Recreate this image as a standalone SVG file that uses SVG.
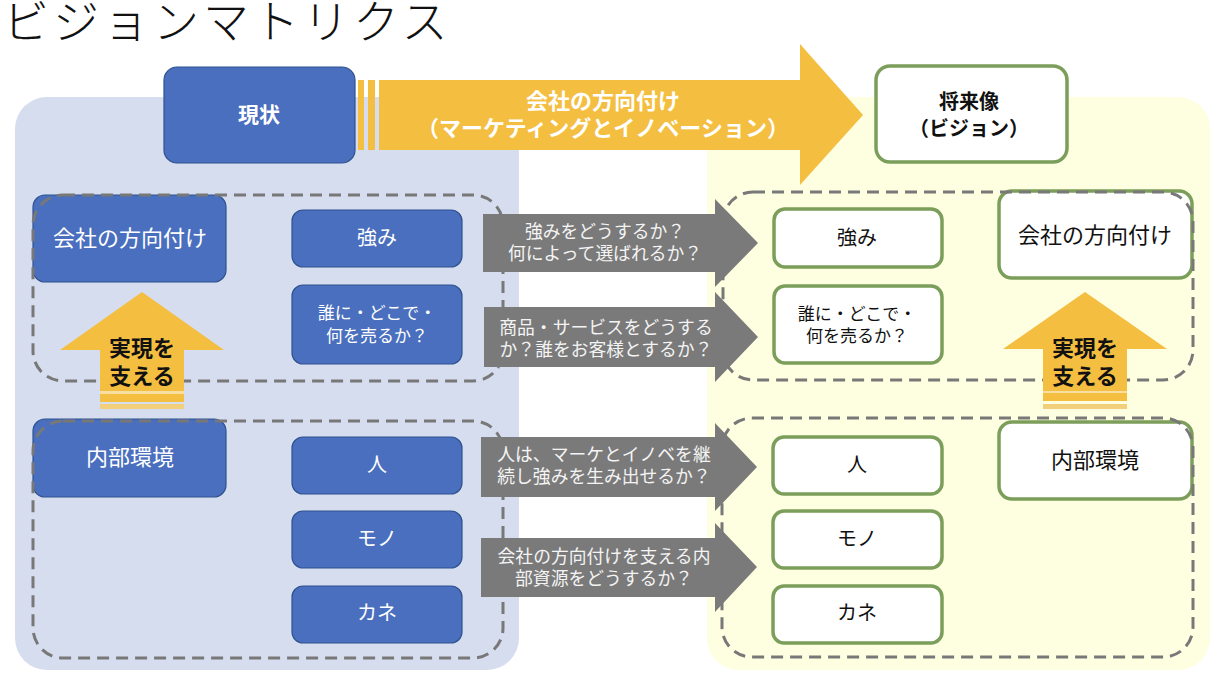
<svg xmlns="http://www.w3.org/2000/svg" width="1220" height="678" viewBox="0 0 1220 678">
<style>
text{font-family:"Noto Sans CJK JP","Noto Sans",sans-serif;text-anchor:middle}
.bb{fill:#4A6FBE;stroke:#2F528F;stroke-width:1.2}
.gb{fill:#FFFFFF;stroke:#7C9E5B;stroke-width:3.5}
.dash{fill:none;stroke:#787878;stroke-width:3;stroke-dasharray:12 7}
.wt{fill:#FFFFFF}
.bt{fill:#111111}
.ga{fill:#7A7A7A}
.gt{fill:#F4F4F4;font-size:17.8px}
.yl{fill:#F4BE41}
.bold{font-weight:bold}
</style>
<rect width="1220" height="678" fill="#FFFFFF"/>
<text x="3" y="38" class="bt" style="text-anchor:start;font-size:46px;letter-spacing:4px;font-weight:200">ビジョンマトリクス</text>
<g id="panels">
<rect x="15" y="97" width="504" height="573" rx="32" fill="#D6DDEE"/>
<rect x="707" y="97" width="503" height="573" rx="32" fill="#FEFEE0"/>
</g>
<g id="genjo">
<rect x="164" y="67" width="191" height="96" rx="13" class="bb"/>
<text x="259" y="122" class="wt bold" style="font-size:21px">現状</text>
</g>
<g id="direction-arrow">
<rect x="358" y="80" width="6" height="70" class="yl"/>
<rect x="368" y="80" width="7" height="70" class="yl"/>
<polygon points="379,80 800,80 800,44 863,115 800,185 800,150 379,150" class="yl"/>
<text x="603" class="wt bold" style="font-size:22px"><tspan x="603" y="109">会社の方向付け</tspan><tspan x="603" y="136">（マーケティングとイノベーション）</tspan></text>
</g>
<g id="vision">
<rect x="876" y="66" width="191" height="96" rx="14" class="gb"/>
<text class="bt bold" style="font-size:20px"><tspan x="969" y="109">将来像</tspan><tspan x="969" y="136">（ビジョン）</tspan></text>
</g>
<g id="left-direction">
<rect x="33" y="195" width="193" height="87" rx="12" class="bb"/>
<text x="130" y="246" class="wt" style="font-size:22px">会社の方向付け</text>
</g>
<g id="left-strength">
<rect x="292" y="210" width="170" height="57" rx="11" class="bb"/>
<text x="377" y="245" class="wt" style="font-size:20px">強み</text>
</g>
<g id="left-who">
<rect x="292" y="285" width="170" height="79" rx="11" class="bb"/>
<text class="wt" style="font-size:17px"><tspan x="377" y="319">誰に・どこで・</tspan><tspan x="377" y="342">何を売るか？</tspan></text>
</g>
<g id="left-internal">
<rect x="33" y="419" width="193" height="78" rx="12" class="bb"/>
<text x="130" y="465" class="wt" style="font-size:22px">内部環境</text>
</g>
<g id="left-people">
<rect x="292" y="437" width="170" height="57" rx="11" class="bb"/>
<text x="377" y="472" class="wt" style="font-size:20px">人</text>
</g>
<g id="left-things">
<rect x="292" y="511" width="170" height="57" rx="11" class="bb"/>
<text x="377" y="546" class="wt" style="font-size:20px">モノ</text>
</g>
<g id="left-money">
<rect x="292" y="586" width="170" height="57" rx="11" class="bb"/>
<text x="377" y="620" class="wt" style="font-size:20px">カネ</text>
</g>
<g id="right-strength">
<rect x="774" y="209" width="168" height="58" rx="11" class="gb"/>
<text x="857" y="245" class="bt" style="font-size:20px">強み</text>
</g>
<g id="right-who">
<rect x="774" y="286" width="168" height="77" rx="11" class="gb"/>
<text class="bt" style="font-size:17px"><tspan x="857" y="320">誰に・どこで・</tspan><tspan x="857" y="342">何を売るか？</tspan></text>
</g>
<g id="right-direction">
<rect x="999" y="191" width="193" height="87" rx="13" class="gb"/>
<text x="1095" y="243" class="bt" style="font-size:22px">会社の方向付け</text>
</g>
<g id="right-people">
<rect x="773" y="437" width="169" height="57" rx="11" class="gb"/>
<text x="857" y="472" class="bt" style="font-size:20px">人</text>
</g>
<g id="right-things">
<rect x="773" y="511" width="169" height="57" rx="11" class="gb"/>
<text x="857" y="546" class="bt" style="font-size:20px">モノ</text>
</g>
<g id="right-money">
<rect x="773" y="586" width="169" height="57" rx="11" class="gb"/>
<text x="857" y="620" class="bt" style="font-size:20px">カネ</text>
</g>
<g id="right-internal">
<rect x="999" y="422" width="193" height="77" rx="13" class="gb"/>
<text x="1095" y="468" class="bt" style="font-size:22px">内部環境</text>
</g>
<g id="groups">
<rect x="33" y="195" width="470" height="186" rx="30" class="dash"/>
<rect x="33" y="421" width="470" height="237" rx="30" class="dash"/>
<rect x="723" y="192" width="470" height="188" rx="30" class="dash"/>
<rect x="722" y="418" width="471" height="239" rx="30" class="dash"/>
</g>
<g id="support-left">
<polygon points="142,292 224,350 184,350 184,391 100,391 100,350 60,350" class="yl"/>
<rect x="100" y="391" width="84" height="3" fill="#F6DFA0"/>
<rect x="100" y="394" width="84" height="8" class="yl"/>
<rect x="100" y="404" width="84" height="5" fill="#F2CF7A"/>
<text class="bt bold" style="font-size:22px"><tspan x="142" y="356">実現を</tspan><tspan x="142" y="384">支える</tspan></text>
</g>
<g id="support-right">
<polygon points="1085,292 1167,349 1127,349 1127,391 1043,391 1043,349 1003,349" class="yl"/>
<rect x="1043" y="391" width="84" height="2" fill="#F6DFA0"/>
<rect x="1043" y="393" width="84" height="8" class="yl"/>
<rect x="1043" y="404" width="84" height="5" fill="#F2CF7A"/>
<text class="bt bold" style="font-size:22px"><tspan x="1085" y="356">実現を</tspan><tspan x="1085" y="384">支える</tspan></text>
</g>
<g id="connectors">
<polygon points="483,214 715,214 715,199 758,243 715,287 715,272 483,272" class="ga"/>
<polygon points="484,307 715,307 715,292 758,337 715,382 715,367 484,367" class="ga"/>
<polygon points="481,437 715,437 715,423 757,467 715,511 715,497 481,497" class="ga"/>
<polygon points="481,538 715,538 715,523 757,567 715,612 715,597 481,597" class="ga"/>
<text class="gt"><tspan x="605" y="238">強みをどうするか？</tspan><tspan x="605" y="260">何によって選ばれるか？</tspan></text>
<text class="gt"><tspan x="606" y="334">商品・サービスをどうする</tspan><tspan x="606" y="356">か？誰をお客様とするか？</tspan></text>
<text class="gt"><tspan x="604" y="461">人は、マーケとイノベを継</tspan><tspan x="604" y="483">続し強みを生み出せるか？</tspan></text>
<text class="gt"><tspan x="604" y="563">会社の方向付けを支える内</tspan><tspan x="604" y="585">部資源をどうするか？</tspan></text>
</g>
</svg>
